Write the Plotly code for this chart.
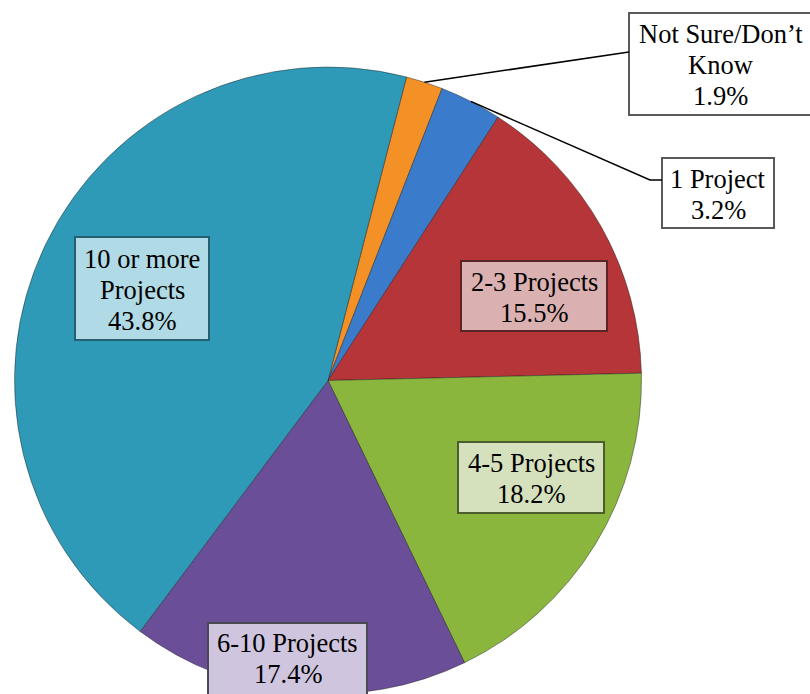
import math
import plotly.graph_objects as go

# Survey answers, clockwise from the top of the pie
categories = ["Not Sure/Don’t Know", "1 Project", "2-3 Projects",
              "4-5 Projects", "6-10 Projects", "10 or more Projects"]
label_lines = [["Not Sure/Don’t", "Know"], ["1 Project"], ["2-3 Projects"],
               ["4-5 Projects"], ["6-10 Projects"], ["10 or more", "Projects"]]
shares = [1.9, 3.2, 15.5, 18.2, 17.4, 43.8]

slice_colors = ["#F39026", "#3A7CCB", "#B63538", "#8AB63E", "#6B4E98", "#2E9AB8"]
box_fill = ["#FFFFFF", "#FFFFFF", "#DBB0B1", "#D4E1BC", "#CFC5DE", "#B0DAE5"]
box_line = ["#5A5A5A", "#5A5A5A", "#5B2526", "#4D5C2E", "#4A4A55", "#24606F"]

W, H = 810, 694
ROTATION = 14.5
FONT_SIZE = 26.5
LINE_STEP = 31

# Pie placement in pixels
pie_left, pie_right, pie_top = 14.5, 641.5, 67
pie_cx = (pie_left + pie_right) / 2
pie_r = (H - pie_top) / 2
pie_cy = pie_top + pie_r

# Label boxes (left, top, right, bottom) and text centre, in pixels
boxes = [(629, 13, 812, 115), (662, 158, 774, 228), (461, 261, 607, 331),
         (458, 442, 604, 513), (208, 623, 367, 702), (75, 237, 209, 340)]
text_centres = [(720.5, 65), (718, 194), (534, 297),
                (531, 478), (287.5, 658.5), (142, 290)]


def px(x, y):
    return x / W, 1 - y / H


fig = go.Figure(go.Pie(
    labels=categories, values=shares, sort=False, direction="clockwise",
    rotation=ROTATION, textinfo="none", hoverinfo="label+percent",
    marker=dict(colors=slice_colors, line=dict(color="rgba(30,30,30,0.45)", width=1)),
    domain=dict(x=[pie_left / W, pie_right / W], y=[0, 1 - pie_top / H]),
    showlegend=False,
))

shapes = []
annotations = []
for lines, share, (l, t, r, b), (tx, ty), fc, lc in zip(
        label_lines, shares, boxes, text_centres, box_fill, box_line):
    x0, y0 = px(l, b)
    x1, y1 = px(r, t)
    shapes.append(dict(type="rect", xref="paper", yref="paper", x0=x0, y0=y0, x1=x1, y1=y1,
                       fillcolor=fc, line=dict(color=lc, width=2), layer="above"))
    rows = lines + [f"{share}%"]
    n = len(rows)
    for i, row in enumerate(rows):
        ax, ay = px(tx, ty + (i - (n - 1) / 2) * LINE_STEP)
        annotations.append(dict(xref="paper", yref="paper", x=ax, y=ay, showarrow=False,
                                xanchor="center", yanchor="middle", align="center",
                                text=row,
                                font=dict(family="Liberation Serif", size=FONT_SIZE,
                                          color="black")))

# Leader lines for the two thin slices, starting at the middle of each slice's rim
cum = 0.0
mid_angles = []
for s in shares:
    mid_angles.append(ROTATION + (cum + s / 2) / 100 * 360)
    cum += s


def rim_point(angle_deg):
    a = math.radians(angle_deg)
    return pie_cx + pie_r * math.sin(a), pie_cy - pie_r * math.cos(a)


leaders = [
    [rim_point(mid_angles[0]), (629, 52)],
    [rim_point(mid_angles[1]), (650, 180), (662, 180)],
]
for pts in leaders:
    path = ""
    for i, (x, y) in enumerate(pts):
        fx, fy = px(x, y)
        path += ("M" if i == 0 else "L") + f"{fx},{fy} "
    shapes.append(dict(type="path", xref="paper", yref="paper", path=path.strip(),
                       line=dict(color="black", width=1.5), layer="above"))

fig.update_layout(
    width=W, height=H, margin=dict(l=0, r=0, t=0, b=0),
    paper_bgcolor="white", plot_bgcolor="white",
    shapes=shapes, annotations=annotations,
)

fig.write_html("out.html")
